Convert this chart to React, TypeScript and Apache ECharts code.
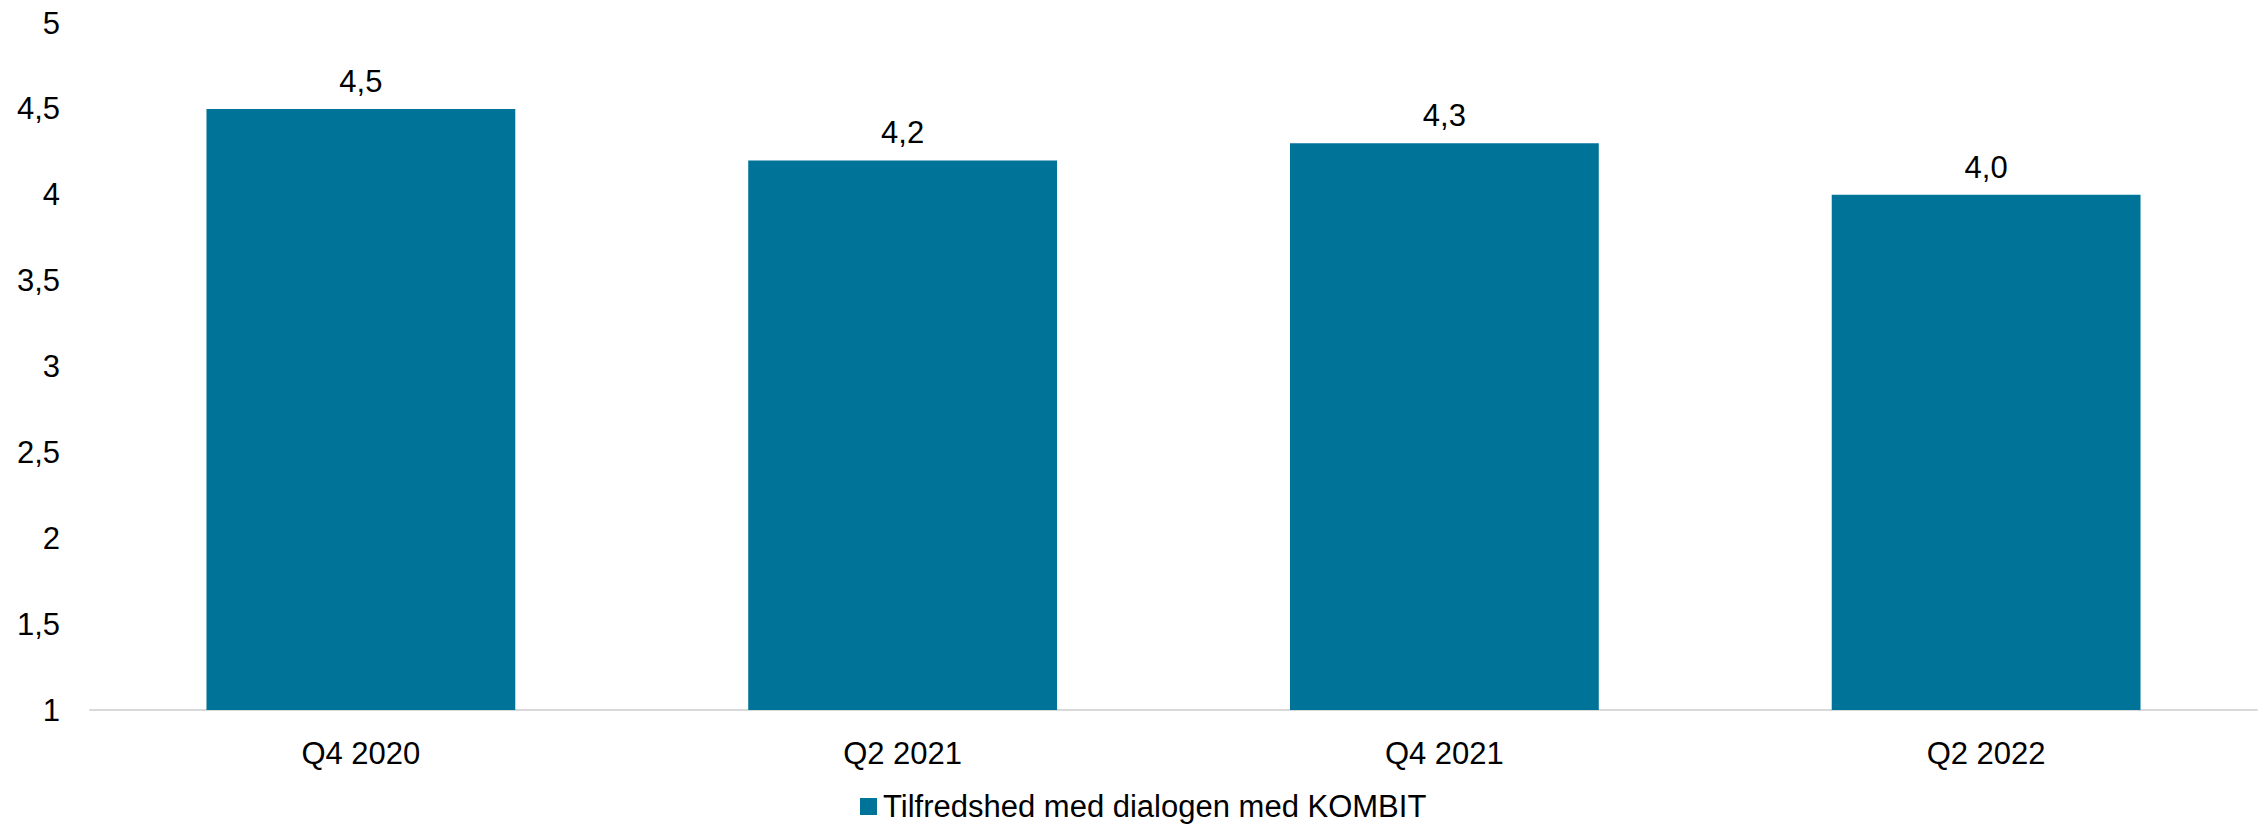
import React, { useEffect, useRef } from "react";
import * as echarts from "echarts";

const categories = ["Q4 2020", "Q2 2021", "Q4 2021", "Q2 2022"];
const seriesName = "Tilfredshed med dialogen med KOMBIT";
const values = [4.5, 4.2, 4.3, 4.0];
const yMin = 1;
const yMax = 5;
const yInterval = 0.5;

const FONT = "'Liberation Sans', Arial, sans-serif";
const BAR_COLOR = "#007399";

const fmtComma = (v: number, digits?: number) => {
  const s = digits === undefined ? String(v) : v.toFixed(digits);
  return s.replace(".", ",");
};

export default function App() {
  const ref = useRef<HTMLDivElement>(null);
  useEffect(() => {
    if (!ref.current) return;
    const chart = echarts.init(ref.current, null, { renderer: "svg" });
    chart.setOption({
      animation: false,
      backgroundColor: "#ffffff",
      textStyle: { fontFamily: FONT },
      grid: { left: 90, right: 10, top: 23, bottom: 118, containLabel: false },
      legend: {
        data: [seriesName],
        left: 860,
        top: 791,
        padding: 0,
        itemWidth: 17,
        itemHeight: 17,
        icon: "rect",
        textStyle: { fontFamily: FONT, fontSize: 31, color: "#000000", padding: [0, 0, 0, 1] },
      },
      xAxis: {
        type: "category",
        data: categories,
        axisLine: { show: true, lineStyle: { color: "#d9d9d9", width: 2 } },
        axisTick: { show: false },
        axisLabel: { fontFamily: FONT, fontSize: 31, color: "#000000", margin: 28 },
      },
      yAxis: {
        type: "value",
        min: yMin,
        max: yMax,
        interval: yInterval,
        axisLine: { show: false },
        axisTick: { show: false },
        splitLine: { show: false },
        axisLabel: {
          fontFamily: FONT,
          fontSize: 31,
          color: "#000000",
          margin: 30,
          formatter: (v: number) => fmtComma(v),
        },
      },
      series: [
        {
          name: seriesName,
          type: "bar",
          data: values,
          barWidth: "57%",
          itemStyle: { color: BAR_COLOR },
          label: {
            show: true,
            position: "top",
            distance: 12,
            fontFamily: FONT,
            fontSize: 31,
            color: "#000000",
            formatter: (p: any) => fmtComma(p.value, 1),
          },
        },
      ],
    });
    return () => chart.dispose();
  }, []);
  return (
    <div
      ref={ref}
      style={{ position: "fixed", left: 0, top: 0, width: 2267, height: 828, background: "#fff" }}
    />
  );
}
